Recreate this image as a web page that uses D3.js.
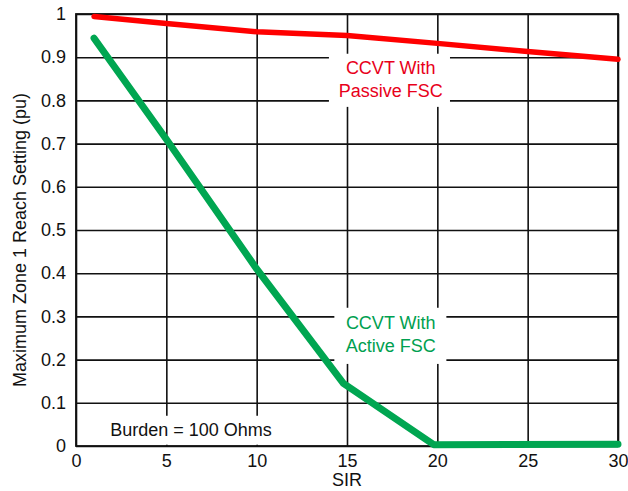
<!DOCTYPE html>
<html>
<head>
<meta charset="utf-8">
<script src="https://cdn.jsdelivr.net/npm/d3@7"></script>
<style>
  body { margin: 0; background: #fff; }
  svg text { font-family: "Liberation Sans", Arial, sans-serif; }
</style>
</head>
<body>
<div id="chart-area"></div>
<script>
// data
const xTicks = [0, 5, 10, 15, 20, 25, 30];
const yTicks = [0, 0.1, 0.2, 0.3, 0.4, 0.5, 0.6, 0.7, 0.8, 0.9, 1];
const yTickLabels = ["0", "0.1", "0.2", "0.3", "0.4", "0.5", "0.6", "0.7", "0.8", "0.9", "1"];

const passiveSir = [1, 5, 10, 15, 20, 25, 30];
const passiveReach = [0.994, 0.978, 0.959, 0.950, 0.932, 0.913, 0.895];

const activeSir = [1, 5, 10, 14.8, 19.8, 30];
const activeReach = [0.944, 0.71, 0.41, 0.145, 0.003, 0.004];

const chartWidth = 628;
const chartHeight = 491;
const margin = {top: 14, right: 10, bottom: 45, left: 76};
const width = chartWidth - margin.left - margin.right;
const height = chartHeight - margin.top - margin.bottom;

let svg = d3.select("#chart-area").append("svg")
  .attr("width", chartWidth)
  .attr("height", chartHeight);

let g = svg.append("g")
  .attr("transform", `translate(${margin.left}, ${margin.top})`);

const x = d3.scaleLinear().domain([0, 30]).range([0, width]);
const y = d3.scaleLinear().domain([0, 1]).range([height, 0]);

// grid via axes
let xAxisCall = d3.axisBottom(x)
  .tickValues(xTicks)
  .tickSize(-height)
  .tickPadding(8)
  .tickFormat(d3.format("d"));
let xAxis = g.append("g")
  .attr("class", "x-axis")
  .attr("transform", `translate(0, ${height})`)
  .call(xAxisCall);

let yAxisCall = d3.axisLeft(y)
  .tickValues(yTicks)
  .tickSize(-width)
  .tickPadding(10)
  .tickFormat((d, i) => yTickLabels[i]);
let yAxis = g.append("g")
  .attr("class", "y-axis")
  .call(yAxisCall);

g.selectAll(".domain").remove();
g.selectAll(".tick line")
  .attr("stroke", "#111")
  .attr("stroke-width", 1.6);
g.selectAll(".tick text")
  .attr("fill", "#111")
  .attr("font-size", "18px");

// frame
g.append("rect")
  .attr("x", 0).attr("y", 0)
  .attr("width", width).attr("height", height)
  .attr("fill", "none")
  .attr("stroke", "#111")
  .attr("stroke-width", 1.8);

// white boxes behind annotations
const boxes = [
  {x0: 14.0, x1: 20.7, y0: 0.785, y1: 0.908},
  {x0: 14.3, x1: 20.5, y0: 0.19, y1: 0.32},
  {x0: 1.3, x1: 11.4, y0: 0.003, y1: 0.07}
];
g.selectAll("rect.box").data(boxes).enter().append("rect")
  .attr("class", "box")
  .attr("x", d => x(d.x0))
  .attr("y", d => y(d.y1))
  .attr("width", d => x(d.x1) - x(d.x0))
  .attr("height", d => y(d.y0) - y(d.y1))
  .attr("fill", "#fff");

const line = d3.line()
  .x(d => x(d[0]))
  .y(d => y(d[1]));

g.append("path")
  .datum(d3.zip(passiveSir, passiveReach))
  .attr("d", line)
  .attr("fill", "none")
  .attr("stroke", "#ff0000")
  .attr("stroke-width", 5.5)
  .attr("stroke-linecap", "round")
  .attr("stroke-linejoin", "round");

g.append("path")
  .datum(d3.zip(activeSir, activeReach))
  .attr("d", line)
  .attr("fill", "none")
  .attr("stroke", "#00a651")
  .attr("stroke-width", 7)
  .attr("stroke-linecap", "round")
  .attr("stroke-linejoin", "round");

// annotations
function label(lines, cx, baseY, color) {
  let t = g.append("text")
    .attr("text-anchor", "middle")
    .attr("font-size", "18px")
    .attr("fill", color);
  lines.forEach((s, i) => {
    t.append("tspan").attr("x", cx).attr("y", baseY + i * 23).text(s);
  });
}
label(["CCVT With", "Passive FSC"], x(17.42), y(0.86), "#e8001a");
label(["CCVT With", "Active FSC"], x(17.42), y(0.27), "#00a050");
label(["Burden = 100 Ohms"], x(6.37), y(0.023), "#111");

// axis titles
svg.append("text")
  .attr("x", 347)
  .attr("y", 486)
  .attr("text-anchor", "middle")
  .attr("font-size", "18px")
  .attr("fill", "#111")
  .text("SIR");

svg.append("text")
  .attr("transform", "rotate(-90)")
  .attr("x", -240)
  .attr("y", 26)
  .attr("text-anchor", "middle")
  .attr("font-size", "18px")
  .attr("fill", "#111")
  .text("Maximum Zone 1 Reach Setting (pu)");
</script>
</body>
</html>
